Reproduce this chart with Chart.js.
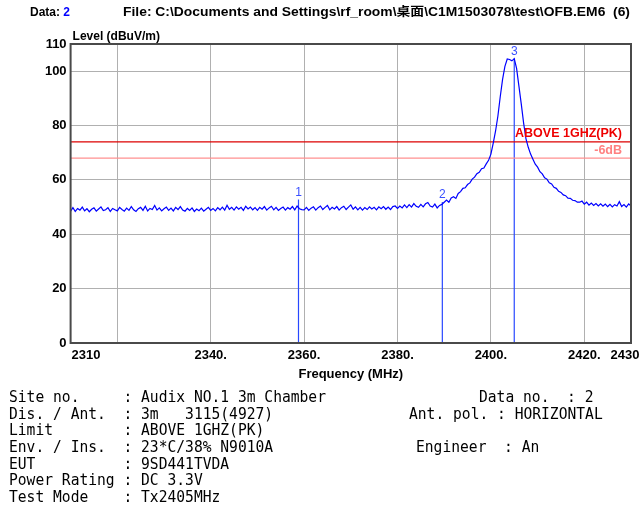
<!DOCTYPE html>
<html>
<head>
<meta charset="utf-8">
<script src="https://cdn.jsdelivr.net/npm/chart.js@4.4.1/dist/chart.umd.min.js"></script>
<style>
  html, body { margin: 0; padding: 0; background: #fff; }
  #wrap { position: relative; width: 640px; height: 509px; overflow: hidden; }
  canvas { position: absolute; left: 0; top: 0; }
  .hdr { position: absolute; font: bold 12px "Liberation Sans", Arial, "Noto Sans CJK SC", sans-serif; line-height: 14px; white-space: nowrap; color: #000; transform-origin: 0 0; }
  .info { position: absolute; margin: 0; font: 16px "DejaVu Sans Mono", monospace; line-height: 16.67px; white-space: pre; color: #000; transform-origin: 0 0; transform: scaleX(0.914); }
</style>
</head>
<body>
<div id="wrap">
  <canvas id="myChart" width="640" height="509"></canvas>
  <div class="hdr" style="left:30px; top:5px;">Data: <span style="color:#0000ff">2</span></div>
  <div class="hdr" id="fileName" style="left:123px; top:5px;">File: C:\Documents and Settings\rf_room\桌面\C1M1503078\test\OFB.EM6&nbsp;&nbsp;(6)</div>
  <pre class="info" style="left:9px; top:389px;">Site no.     : Audix NO.1 3m Chamber
Dis. / Ant.  : 3m   3115(4927)
Limit        : ABOVE 1GHZ(PK)
Env. / Ins.  : 23*C/38% N9010A
EUT          : 9SD441TVDA
Power Rating : DC 3.3V
Test Mode    : Tx2405MHz</pre>
  <pre class="info" style="left:479px; top:389px;">Data no.  : 2</pre>
  <pre class="info" style="left:409px; top:405.7px;">Ant. pol. : HORIZONTAL</pre>
  <pre class="info" style="left:416px; top:439px;">Engineer  : An</pre>
</div>
<script>
// barrido del analizador (MHz) y nivel medido (dBuV/m)
const freqs = [
  2310,2310.5,2311,2311.5,2312,2312.5,2313,2313.5,2314,2314.5,
  2315,2315.5,2316,2316.5,2317,2317.5,2318,2318.5,2319,2319.5,
  2320,2320.5,2321,2321.5,2322,2322.5,2323,2323.5,2324,2324.5,
  2325,2325.5,2326,2326.5,2327,2327.5,2328,2328.5,2329,2329.5,
  2330,2330.5,2331,2331.5,2332,2332.5,2333,2333.5,2334,2334.5,
  2335,2335.5,2336,2336.5,2337,2337.5,2338,2338.5,2339,2339.5,
  2340,2340.5,2341,2341.5,2342,2342.5,2343,2343.5,2344,2344.5,
  2345,2345.5,2346,2346.5,2347,2347.5,2348,2348.5,2349,2349.5,
  2350,2350.5,2351,2351.5,2352,2352.5,2353,2353.5,2354,2354.5,
  2355,2355.5,2356,2356.5,2357,2357.5,2358,2358.5,2359,2359.5,
  2360,2360.5,2361,2361.5,2362,2362.5,2363,2363.5,2364,2364.5,
  2365,2365.5,2366,2366.5,2367,2367.5,2368,2368.5,2369,2369.5,
  2370,2370.5,2371,2371.5,2372,2372.5,2373,2373.5,2374,2374.5,
  2375,2375.5,2376,2376.5,2377,2377.5,2378,2378.5,2379,2379.5,
  2380,2380.5,2381,2381.5,2382,2382.5,2383,2383.5,2384,2384.5,
  2385,2385.5,2386,2386.5,2387,2387.5,2388,2388.5,2389,2389.5,
  2390,2390.5,2391,2391.5,2392,2392.5,2393,2393.5,2394,2394.5,
  2395,2395.5,2396,2396.5,2397,2397.5,2398,2398.5,2399,2399.5,
  2400,2400.5,2401,2401.5,2402,2402.5,2403,2403.5,2404,2404.5,
  2405,2405.5,2406,2406.5,2407,2407.5,2408,2408.5,2409,2409.5,
  2410,2410.5,2411,2411.5,2412,2412.5,2413,2413.5,2414,2414.5,
  2415,2415.5,2416,2416.5,2417,2417.5,2418,2418.5,2419,2419.5,
  2420,2420.5,2421,2421.5,2422,2422.5,2423,2423.5,2424,2424.5,
  2425,2425.5,2426,2426.5,2427,2427.5,2428,2428.5,2429,2429.5,
  2430
];
const levels = [
  48.5,49.8,48.4,49.5,48.9,50.0,48.6,49.4,48.3,49.2,
  49.7,48.5,49.3,50.1,48.7,49.0,49.8,48.4,49.5,49.0,
  48.6,49.9,49.1,48.5,49.6,48.8,50.2,49.0,48.4,49.4,
  49.9,48.8,50.3,48.6,49.5,49.1,50.6,48.9,49.7,48.6,
  49.4,50.0,48.8,49.6,48.6,49.9,49.1,50.2,48.9,48.5,
  49.5,48.8,49.7,48.4,49.3,48.7,49.6,48.5,49.2,49.9,
  48.8,49.5,48.6,49.8,49.0,50.0,48.9,50.7,49.2,49.9,
  48.9,50.1,49.2,49.9,48.8,50.3,49.3,50.0,49.0,49.8,
  48.8,49.9,49.2,50.2,48.9,49.7,50.3,49.0,49.9,48.8,
  49.5,50.0,48.9,49.8,49.2,50.2,49.0,50.4,49.4,49.1,
  49.0,49.9,48.8,49.6,50.1,48.9,49.8,50.4,49.1,49.9,
  50.6,49.0,49.9,49.3,50.2,48.9,49.8,50.3,49.1,50.0,
  50.8,49.2,50.1,49.0,49.9,48.9,49.8,49.1,50.1,49.3,
  49.9,49.0,50.1,49.4,50.2,49.2,50.0,49.1,50.2,50.4,
  49.5,50.4,49.7,50.8,49.8,50.9,50.0,51.3,50.3,49.9,
  51.0,50.1,51.2,51.7,50.4,50.0,51.1,49.7,50.6,51.0,
  51.8,52.6,51.8,53.4,53.8,53.2,55.0,55.7,56.9,57.1,
  58.3,58.9,60.3,61.0,62.3,62.8,64.1,64.4,65.9,67.2,
  69.5,73.5,78.0,83.5,90.6,97.0,101.8,104.5,104.3,103.8,
  104.6,101.0,94.5,88.0,81.0,75.2,72.0,69.5,67.6,65.8,
  64.7,63.0,62.2,60.8,60.3,58.9,58.5,57.3,56.9,55.8,
  55.4,54.5,54.2,53.3,53.2,52.5,52.4,51.8,51.8,52.2,
  51.1,51.8,50.7,51.5,50.6,51.3,50.4,51.2,50.3,51.1,
  50.2,51.0,50.1,50.9,50.4,52.0,50.2,50.9,50.0,51.2,
  50.4
];

// limite ABOVE 1GHZ(PK) y margen -6dB
const limitFreqs = [2310, 2430];
const limitLevels = [74, 74];
const marginLevels = [68, 68];

// marcadores
const markerNames = ['1', '2', '3'];
const markerFreqs = [2358.8, 2389.6, 2405.0];
const markerLevels = [52.8, 51.9, 104.6];

// ejes
const xTickValues = [2310, 2320, 2340, 2360, 2380, 2400, 2420, 2430];
const xTickLabels = ['2310', '', '2340.', '2360.', '2380.', '2400.', '2420.', '2430'];
const yTickValues = [0, 20, 40, 60, 80, 100, 110];

const FONT = '"Liberation Sans", Arial, sans-serif';

// ajusta el nombre de archivo al ancho de la cabecera
const fileEl = document.getElementById('fileName');
fileEl.style.transform = 'scaleX(' + (507 / fileEl.getBoundingClientRect().width) + ')';

const toPoints = (xs, ys) => xs.map((f, i) => ({ x: f, y: ys[i] }));

const markerSets = markerFreqs.map((f, i) => ({
  data: [{ x: f, y: 0 }, { x: f, y: markerLevels[i] }],
  borderColor: '#2848ff',
  borderWidth: 1.2,
  pointRadius: 0
}));

const overlay = {
  id: 'overlay',
  afterDraw(chart) {
    const { ctx, chartArea: a, scales: { x, y } } = chart;
    ctx.save();

    // marco
    ctx.strokeStyle = '#4a4a4a';
    ctx.lineWidth = 2;
    ctx.strokeRect(a.left, a.top, a.right - a.left, a.bottom - a.top);

    // etiquetas del eje x (la primera va alineada a la izquierda, la ultima un poco hacia dentro)
    ctx.font = 'bold 13px ' + FONT;
    ctx.fillStyle = '#000';
    ctx.textBaseline = 'middle';
    const last = xTickValues.length - 1;
    xTickValues.forEach((v, i) => {
      if (!xTickLabels[i]) return;
      ctx.textAlign = i === 0 ? 'left' : 'center';
      const dx = i === 0 ? 1 : (i === last ? -6 : 0);
      ctx.fillText(xTickLabels[i], x.getPixelForValue(v) + dx, a.bottom + 12);
    });

    // titulos de ejes
    ctx.textAlign = 'center';
    ctx.fillText('Frequency (MHz)', (a.left + a.right) / 2, a.bottom + 31);
    ctx.font = 'bold 12px ' + FONT;
    ctx.textAlign = 'left';
    ctx.fillText('Level (dBuV/m)', a.left + 2, a.top - 7.5);

    // etiquetas de limite
    ctx.font = 'bold 12.5px ' + FONT;
    ctx.textAlign = 'right';
    ctx.fillStyle = '#ee0000';
    ctx.fillText('ABOVE 1GHZ(PK)', a.right - 9, y.getPixelForValue(limitLevels[0]) - 8);
    ctx.fillStyle = '#ff8080';
    ctx.fillText('-6dB', a.right - 9, y.getPixelForValue(marginLevels[0]) - 8);

    // numeros de marcador
    ctx.font = '12px ' + FONT;
    ctx.textAlign = 'center';
    ctx.textBaseline = 'bottom';
    ctx.fillStyle = '#3a50ff';
    markerFreqs.forEach((f, i) => {
      ctx.fillText(markerNames[i], x.getPixelForValue(f), y.getPixelForValue(markerLevels[i]) - 1);
    });
    ctx.restore();
  }
};

const ctx = document.getElementById('myChart').getContext('2d');
new Chart(ctx, {
  type: 'line',
  data: {
    datasets: [
      {
        data: toPoints(freqs, levels),
        borderColor: '#0000ff',
        borderWidth: 1.2,
        pointRadius: 0,
        tension: 0
      },
      {
        data: toPoints(limitFreqs, limitLevels),
        borderColor: '#dd0000',
        borderWidth: 1.2,
        pointRadius: 0
      },
      {
        data: toPoints(limitFreqs, marginLevels),
        borderColor: '#ff9090',
        borderWidth: 1.2,
        pointRadius: 0
      },
      ...markerSets
    ]
  },
  options: {
    responsive: false,
    animation: false,
    layout: { padding: { left: 0, top: 44, right: 9, bottom: 166 } },
    plugins: { legend: { display: false }, tooltip: { enabled: false } },
    scales: {
      x: {
        type: 'linear',
        min: 2310,
        max: 2430,
        afterBuildTicks: s => { s.ticks = xTickValues.map(v => ({ value: v })); },
        afterFit: s => { s.height = 0; },
        ticks: { display: false },
        grid: { color: '#b0b0b0', lineWidth: 1, drawTicks: false },
        border: { display: false }
      },
      y: {
        min: 0,
        max: 110,
        afterBuildTicks: s => { s.ticks = yTickValues.map(v => ({ value: v })); },
        afterFit: s => { s.width = 70.6; },
        ticks: { color: '#000', padding: 4, font: { family: FONT, size: 13, weight: 'bold' } },
        grid: { color: '#b0b0b0', lineWidth: 1, drawTicks: false },
        border: { display: false }
      }
    }
  },
  plugins: [overlay]
});
</script>
</body>
</html>
